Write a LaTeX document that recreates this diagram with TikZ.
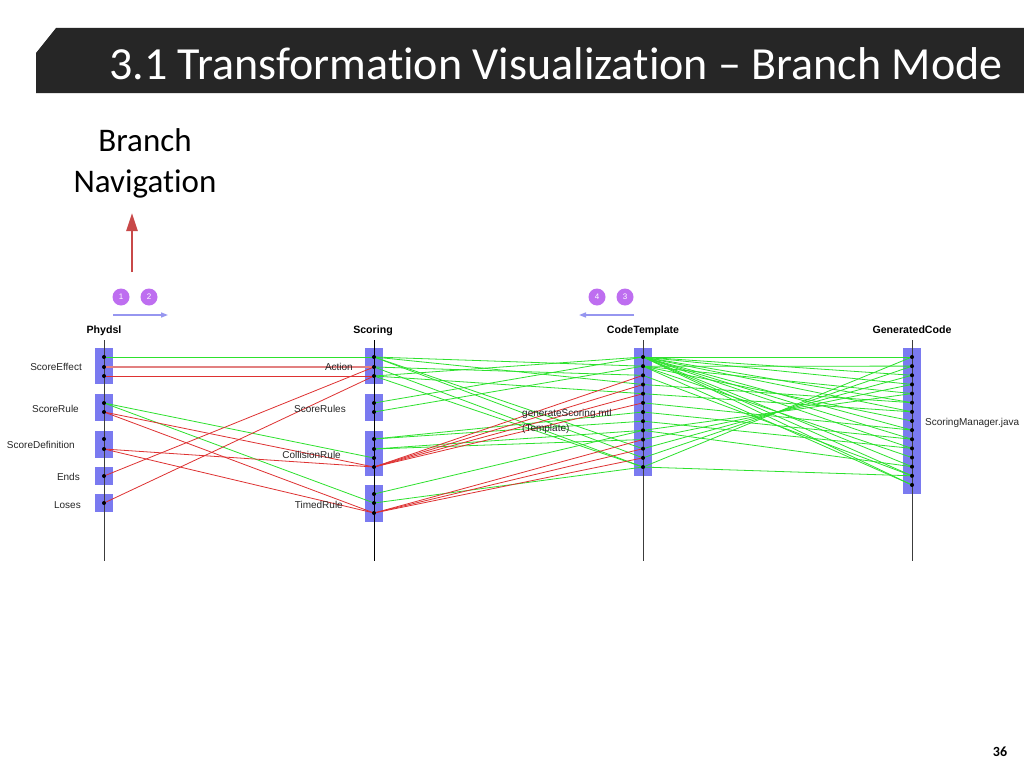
\documentclass[tikz,border=0pt]{standalone}
\usepackage{fontspec}
\setmainfont{Carlito}[Ligatures={NoCommon}]
\newfontfamily\arialfont{Liberation Sans}
\usetikzlibrary{arrows.meta}
\definecolor{barbg}{RGB}{38,38,38}
\definecolor{boxblue}{RGB}{122,122,240}
\definecolor{lgreen}{RGB}{45,225,45}
\definecolor{lred}{RGB}{222,50,50}
\definecolor{pinkred}{RGB}{226,128,128}
\definecolor{btnviolet}{RGB}{190,110,240}
\definecolor{navblue}{RGB}{150,150,240}
\definecolor{arrowred}{RGB}{200,72,72}
\definecolor{axisgray}{RGB}{60,60,60}
\begin{document}
\begin{tikzpicture}[x=1pt,y=-1pt,
  box/.style={fill=boxblue,draw=none,minimum width=18pt,inner sep=0pt,outer sep=0pt},
  axisline/.style={draw=axisgray,line width=0.8pt},
  gline/.style={draw=lgreen,line width=0.8pt},
  rline/.style={draw=lred,line width=0.8pt},
  pline/.style={draw=pinkred,line width=1.8pt},
  lab/.style={font=\arialfont\fontsize{10}{12}\selectfont,inner sep=0pt,text=black!85},
  head/.style={font=\arialfont\bfseries\fontsize{10.6}{12}\selectfont,inner sep=0pt,anchor=base},
  btn/.style={circle,fill=btnviolet,text=white,minimum size=17pt,inner sep=0pt,font=\arialfont\fontsize{8}{9}\selectfont},
  navarrow/.style={draw=navblue,line width=1.5pt,-{Triangle[length=7pt,width=5pt]}},
  dotmark/.style={fill=black}
]
\useasboundingbox (0,0) rectangle (1024,768);
\fill[white] (0,0) rectangle (1024,768);

% title bar
\fill[barbg] (56,28) -- (1024,28) -- (1024,93) -- (36,93) -- (36,53) -- cycle;
\node[anchor=base west,inner sep=0pt,text=white,font=\fontsize{46}{54}\selectfont] (title) at (109,79) {3.1 Transformation Visualization – Branch Mode};

% branch navigation
\node[align=center,inner sep=0pt,font=\fontsize{33}{41}\selectfont] (bnav) at (145,163) {Branch\\Navigation};
\coordinate (raS) at (132,272);
\coordinate (raE) at (132,213);
\draw[draw=arrowred,line width=2.6pt,-{Triangle[length=18pt,width=11pt]}] (raS) -- (raE);

% buttons and nav arrows
\node[btn] (b1) at (121,297) {1};
\node[btn] (b2) at (149,297) {2};
\node[btn] (b4) at (597,297) {4};
\node[btn] (b3) at (625,297) {3};
\coordinate (n1s) at (113,315); \coordinate (n1e) at (168,315);
\coordinate (n2s) at (634,315); \coordinate (n2e) at (579,315);
\draw[navarrow] (n1s) -- (n1e);
\draw[navarrow] (n2s) -- (n2e);

% headers
\node[head] (hP) at (104,333) {Phydsl};
\node[head] (hS) at (373,333) {Scoring};
\node[head] (hC) at (643,333) {CodeTemplate};
\node[head] (hG) at (912,333) {GeneratedCode};

% boxes
\node[box,minimum height=36pt] (bxP1) at (104,366) {};
\node[box,minimum height=27pt] (bxP2) at (104,407.5) {};
\node[box,minimum height=27pt] (bxP3) at (104,444.5) {};
\node[box,minimum height=18pt] (bxP4) at (104,476) {};
\node[box,minimum height=18pt] (bxP5) at (104,503) {};
\node[box,minimum height=36pt] (bxS1) at (374,366) {};
\node[box,minimum height=27pt] (bxS2) at (374,407.5) {};
\node[box,minimum height=45pt] (bxS3) at (374,453.5) {};
\node[box,minimum height=37pt] (bxS4) at (374,503.5) {};
\node[box,minimum height=128pt] (bxC) at (643,412) {};
\node[box,minimum height=146pt] (bxG) at (912,421) {};

% axes
\coordinate (aP1) at (104,340); \coordinate (aP2) at (104,561);
\coordinate (aS1) at (374,340); \coordinate (aS2) at (374,561);
\coordinate (aC1) at (643,340); \coordinate (aC2) at (643,561);
\coordinate (aG1) at (912,340); \coordinate (aG2) at (912,561);
\draw[axisline] (aP1) -- (aP2);
\draw[axisline,draw=black,line width=1pt] (aS1) -- (aS2);
\draw[axisline] (aC1) -- (aC2);
\draw[axisline] (aG1) -- (aG2);

% anchor points
\foreach \n/\y in {1/357,2/367,3/376,4/403,5/412,6/439,7/449,8/476,9/503}
  \coordinate (p\n) at (104,\y);
\foreach \n/\y in {1/357,2/367,3/376,4/403,5/412,6/439,7/449,8/458,9/467,10/494,11/503,12/513}
  \coordinate (s\n) at (374,\y);
\foreach \k in {1,...,13}
  \coordinate (c\k) at (643,{357+(\k-1)*9.17});
\foreach \k in {1,...,15}
  \coordinate (g\k) at (912,{357+(\k-1)*9.14});

% Phydsl -> Scoring
\draw[pline] (p2) -- (s2);
\foreach \a/\b in {p1/s1,p4/s8,p4/s11}
  \draw[gline] (\a) -- (\b);
\foreach \a/\b in {p3/s3,p5/s9,p5/s12,p7/s9,p7/s12,p8/s2,p9/s3}
  \draw[rline] (\a) -- (\b);

% Scoring -> CodeTemplate
\foreach \a/\b in {s1/c2,s1/c4,s1/c11,s1/c12,s2/c3,s2/c13,s3/c1,s3/c5,s3/c13,s4/c1,s5/c2,s6/c7,s6/c8,s7/c9,s7/c10,s10/c9,s11/c13}
  \draw[gline] (\a) -- (\b);
\foreach \a/\b in {s9/c3,s9/c4,s9/c5,s9/c6,s12/c10,s12/c11,s12/c12}
  \draw[rline] (\a) -- (\b);

% CodeTemplate -> GeneratedCode
\foreach \a/\b in {c1/g1,c1/g3,c1/g4,c1/g6,c1/g7,c1/g9,c1/g10,c1/g11,c1/g13,c1/g14,c1/g15,
                   c2/g2,c2/g5,c2/g8,c2/g12,c2/g15,
                   c4/g6,c5/g7,c6/g9,c7/g10,c8/g11,c9/g13,c3/g14,
                   c10/g4,c11/g3,c12/g2,c13/g1,c9/g5,c13/g14}
  \draw[gline] (\a) -- (\b);

% dots
\foreach \n in {1,...,9} \fill[dotmark] (p\n) circle (2);
\foreach \n in {1,...,12} \fill[dotmark] (s\n) circle (2);
\foreach \n in {1,...,13} \fill[dotmark] (c\n) circle (2);
\foreach \n in {1,...,15} \fill[dotmark] (g\n) circle (2);

% labels
\node[lab,anchor=base east] (lSE) at (82,370) {ScoreEffect};
\node[lab,anchor=base east] (lSR) at (79,412) {ScoreRule};
\node[lab,anchor=base east] (lSD) at (75,448) {ScoreDefinition};
\node[lab,anchor=base east] (lEn) at (80,480) {Ends};
\node[lab,anchor=base east] (lLo) at (81,508) {Loses};
\node[lab,anchor=base east] (lAc) at (353,370) {Action};
\node[lab,anchor=base east] (lSRs) at (346,412) {ScoreRules};
\node[lab,anchor=base east] (lCR) at (341,458) {CollisionRule};
\node[lab,anchor=base east] (lTR) at (343,508) {TimedRule};
\node[lab,anchor=base west] (lGS) at (522,416) {generateScoring.mtl};
\node[lab,anchor=base west] (lTp) at (522,431) {(Template)};
\node[lab,anchor=base west] (lSM) at (925,425) {ScoringManager.java};

% page number
\node[inner sep=0pt,font=\bfseries\fontsize{14}{16}\selectfont] (pg) at (1000,752) {36};
\end{tikzpicture}
\end{document}
